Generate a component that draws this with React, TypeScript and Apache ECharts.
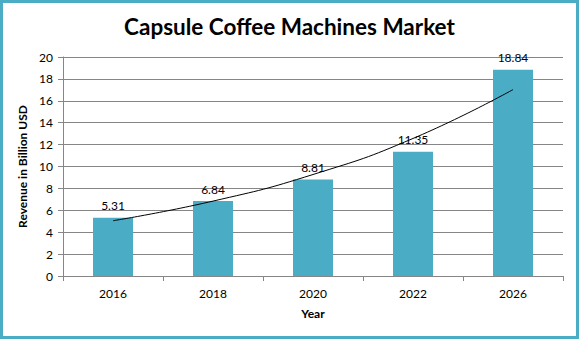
import React, { useEffect, useRef } from "react";
import * as echarts from "echarts";

const years = ["2016", "2018", "2020", "2022", "2026"];
const revenue = [5.31, 6.84, 8.81, 11.35, 18.84];
const yTicks = { min: 0, max: 20, interval: 2 };

// exponential trendline fitted to the revenue values (least squares on ln y)
function expTrend(vals: number[]): number[] {
  const n = vals.length;
  const xs = vals.map((_, i) => i + 1);
  const ls = vals.map((v) => Math.log(v));
  const mx = xs.reduce((a, b) => a + b, 0) / n;
  const ml = ls.reduce((a, b) => a + b, 0) / n;
  let num = 0;
  let den = 0;
  for (let i = 0; i < n; i++) {
    num += (xs[i] - mx) * (ls[i] - ml);
    den += (xs[i] - mx) * (xs[i] - mx);
  }
  const b = num / den;
  const a = ml - b * mx;
  return xs.map((x) => +Math.exp(a + b * x).toFixed(3));
}

export default function App() {
  const ref = useRef<HTMLDivElement>(null);
  useEffect(() => {
    document.body.style.margin = "0";
    const chart = echarts.init(ref.current!, null, { renderer: "svg" });
    const font = "Lato, 'Noto Sans', sans-serif";
    chart.setOption({
      animation: false,
      backgroundColor: "#ffffff",
      title: {
        text: "Capsule Coffee Machines Market",
        left: "center",
        top: 10,
        textStyle: { fontFamily: font, fontSize: 22.5, fontWeight: "bold", color: "#000" },
      },
      grid: { left: 63, right: 16, top: 57, bottom: 63 },
      xAxis: {
        type: "category",
        data: years,
        name: "Year",
        nameLocation: "middle",
        nameGap: 31,
        nameTextStyle: { fontFamily: font, fontSize: 12, fontWeight: "bold", color: "#000" },
        axisLine: { lineStyle: { color: "#868686", width: 1 } },
        axisTick: { show: true, length: 5, alignWithLabel: false, lineStyle: { color: "#868686" } },
        axisLabel: { fontFamily: font, fontSize: 12, color: "#000", margin: 11 },
      },
      yAxis: {
        type: "value",
        min: yTicks.min,
        max: yTicks.max,
        interval: yTicks.interval,
        name: "Revenue in Billion USD",
        nameLocation: "middle",
        nameGap: 28,
        nameRotate: 90,
        nameTextStyle: { fontFamily: font, fontSize: 12, fontWeight: "bold", color: "#000" },
        axisLine: { show: true, lineStyle: { color: "#868686", width: 1 } },
        axisTick: { show: true, length: 5, lineStyle: { color: "#868686" } },
        axisLabel: { fontFamily: font, fontSize: 12, color: "#000", margin: 10 },
        splitLine: { lineStyle: { color: "#868686", width: 1 } },
      },
      series: [
        {
          type: "bar",
          data: revenue,
          barWidth: "40%",
          itemStyle: { color: "#4bacc6" },
          label: {
            show: true,
            position: "top",
            distance: 6,
            fontFamily: font,
            fontSize: 12,
            color: "#000",
            formatter: (p: any) => p.value.toFixed(2),
          },
          z: 2,
        },
        {
          type: "line",
          data: expTrend(revenue),
          smooth: true,
          showSymbol: false,
          symbol: "none",
          lineStyle: { color: "#000", width: 1 },
          z: 5,
          silent: true,
        },
      ],
    });
    return () => chart.dispose();
  }, []);
  return (
    <div style={{ position: "relative", width: 579, height: 339 }}>
      <div ref={ref} style={{ position: "absolute", left: 0, top: 0, width: 579, height: 339 }} />
      <div
        style={{
          position: "absolute",
          left: 0,
          top: 0,
          width: 579,
          height: 339,
          boxSizing: "border-box",
          border: "3px solid #4bacc6",
          pointerEvents: "none",
        }}
      />
    </div>
  );
}
